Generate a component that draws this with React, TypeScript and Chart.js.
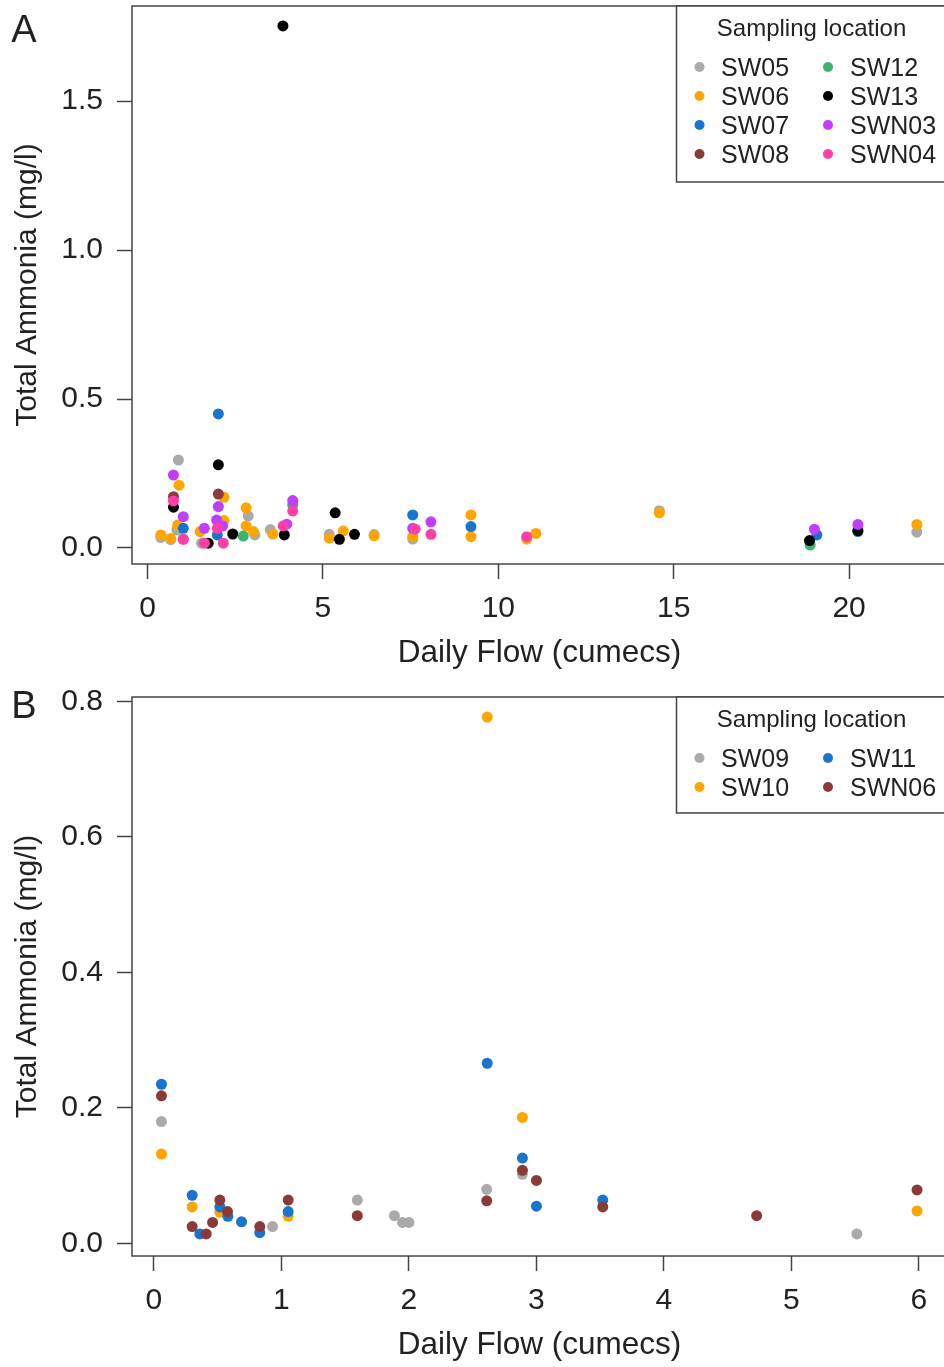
import React, { useEffect, useRef } from "react";
import { Chart, registerables } from "chart.js";
Chart.register(...registerables);

const FONT = '"Liberation Sans", Arial, Helvetica, sans-serif';

// ---------- Panel A data: [daily flow (cumecs), total ammonia (mg/l)] ----------
const SW05_A = [[0.38, 0.035], [0.66, 0.028], [0.88, 0.295], [0.84, 0.06], [1.54, 0.016], [2.87, 0.107], [3.06, 0.044], [3.5, 0.062], [5.18, 0.046], [6.46, 0.045], [7.56, 0.03], [14.59, 0.125], [21.93, 0.053]];
const SW06_A = [[0.38, 0.044], [0.66, 0.032], [0.86, 0.077], [0.9, 0.211], [1.5, 0.055], [2.18, 0.17], [2.18, 0.092], [2.81, 0.135], [2.81, 0.074], [3.02, 0.055], [3.57, 0.047], [5.18, 0.033], [5.58, 0.057], [6.46, 0.041], [7.56, 0.038], [9.22, 0.111], [9.22, 0.038], [10.81, 0.03], [11.07, 0.049], [14.59, 0.118], [21.93, 0.079]];
const SW07_A = [[1.02, 0.066], [1.99, 0.044], [2.02, 0.45], [7.56, 0.111], [9.22, 0.072], [19.08, 0.044], [20.25, 0.055]];
const SW08_A = [[0.74, 0.172], [2.02, 0.181]];
const SW12_A = [[1.02, 0.03], [2.73, 0.04], [4.14, 0.145], [18.89, 0.01]];
const SW13_A = [[0.74, 0.137], [1.73, 0.016], [2.02, 0.279], [2.43, 0.047], [3.86, 1.752], [3.9, 0.044], [5.35, 0.118], [5.47, 0.029], [5.9, 0.046], [18.87, 0.025], [20.25, 0.058]];
const SWN03_A = [[0.74, 0.245], [1.02, 0.105], [1.62, 0.066], [1.97, 0.094], [2.02, 0.139], [2.14, 0.074], [3.97, 0.08], [4.14, 0.159], [7.56, 0.066], [8.08, 0.088], [19.01, 0.063], [20.25, 0.079]];
const SWN04_A = [[0.74, 0.158], [1.02, 0.029], [1.62, 0.016], [1.99, 0.066], [2.16, 0.016], [3.87, 0.074], [4.14, 0.124], [7.63, 0.063], [8.08, 0.046], [10.81, 0.038]];

const NAMES_A = ["SW05", "SW06", "SW07", "SW08", "SW12", "SW13", "SWN03", "SWN04"];
const COLORS_A = ["#AAAAAA", "#FFA500", "#1874CD", "#8B3A3A", "#3CB371", "#000000", "#BF3EFF", "#FF3EAA"];
const SERIES_A = [SW05_A, SW06_A, SW07_A, SW08_A, SW12_A, SW13_A, SWN03_A, SWN04_A];
const X_TICKS_A = [0, 5, 10, 15, 20];
const Y_TICKS_A = [0, 0.5, 1.0, 1.5];

// ---------- Panel B data ----------
const SW09_B = [[0.059, 0.18], [0.93, 0.025], [1.595, 0.064], [1.886, 0.041], [1.95, 0.031], [2.0, 0.031], [2.61, 0.08], [2.89, 0.102], [5.513, 0.014]];
const SW10_B = [[0.059, 0.132], [0.3, 0.054], [0.517, 0.046], [1.053, 0.04], [2.614, 0.777], [2.89, 0.186], [5.985, 0.048]];
const SW11_B = [[0.059, 0.235], [0.3, 0.071], [0.36, 0.014], [0.517, 0.054], [0.58, 0.04], [0.687, 0.032], [0.83, 0.016], [1.053, 0.047], [2.614, 0.266], [2.89, 0.126], [3.0, 0.055], [3.52, 0.064]];
const SWN06_B = [[0.059, 0.218], [0.3, 0.025], [0.41, 0.014], [0.46, 0.031], [0.517, 0.064], [0.577, 0.047], [0.83, 0.025], [1.053, 0.064], [1.595, 0.041], [2.61, 0.063], [2.89, 0.108], [3.0, 0.093], [3.52, 0.054], [4.727, 0.041], [5.985, 0.079]];

const NAMES_B = ["SW09", "SW10", "SW11", "SWN06"];
const COLORS_B = ["#AAAAAA", "#FFA500", "#1874CD", "#8B3A3A"];
const SERIES_B = [SW09_B, SW10_B, SW11_B, SWN06_B];
const X_TICKS_B = [0, 1, 2, 3, 4, 5, 6];
const Y_TICKS_B = [0, 0.2, 0.4, 0.6, 0.8];

const LEGEND_TITLE = "Sampling location";
const X_TITLE = "Daily Flow (cumecs)";
const Y_TITLE = "Total Ammonia (mg/l)";

const CANVAS_W = 960;
const TEXT = "#222222";
const LINE = "#444444";

type PanelCfg = {
  letter: string;
  letterY: number;
  names: string[];
  colors: string[];
  series: number[][][];
  xMin: number; xMax: number; yMin: number; yMax: number;
  xTicks: number[]; yTicks: number[]; xDec: number; yDec: number;
  padTop: number; height: number; plotBottom: number;
  legendH: number;
};

const PANEL_A: PanelCfg = {
  letter: "A", letterY: 32,
  names: NAMES_A, colors: COLORS_A, series: SERIES_A,
  xMin: -0.442, xMax: 22.79, yMin: -0.0537, yMax: 1.819,
  xTicks: X_TICKS_A, yTicks: Y_TICKS_A, xDec: 0, yDec: 1,
  padTop: 6, height: 683, plotBottom: 564,
  legendH: 176,
};

const PANEL_B: PanelCfg = {
  letter: "B", letterY: 25,
  names: NAMES_B, colors: COLORS_B, series: SERIES_B,
  xMin: -0.172, xMax: 6.22, yMin: -0.0185, yMax: 0.8066,
  xTicks: X_TICKS_B, yTicks: Y_TICKS_B, xDec: 0, yDec: 1,
  padTop: 14, height: 684, plotBottom: 573,
  legendH: 116,
};

function buildChart(canvas: HTMLCanvasElement, p: PanelCfg) {
  const decoPlugin = {
    id: "deco" + p.letter,
    afterDraw(chart: any) {
      const ctx = chart.ctx as CanvasRenderingContext2D;
      const a = chart.chartArea;
      ctx.save();
      // box
      ctx.strokeStyle = LINE;
      ctx.lineWidth = 1.5;
      ctx.strokeRect(a.left, a.top, a.right - a.left, a.bottom - a.top);
      // legend box
      const lx = 676.5;
      ctx.fillStyle = "#ffffff";
      ctx.fillRect(lx, a.top, CANVAS_W - lx + 10, p.legendH);
      ctx.strokeRect(lx, a.top, CANVAS_W - lx + 10, p.legendH);
      ctx.fillStyle = TEXT;
      ctx.textAlign = "center";
      ctx.textBaseline = "middle";
      ctx.font = `24px ${FONT}`;
      ctx.fillText(LEGEND_TITLE, 811.5, a.top + 23);
      const half = Math.ceil(p.names.length / 2);
      ctx.font = `25px ${FONT}`;
      ctx.textAlign = "left";
      p.names.forEach((n, i) => {
        const col = i < half ? 0 : 1;
        const row = i < half ? i : i - half;
        const dx = col === 0 ? 699.5 : 828;
        const tx = col === 0 ? 721 : 850;
        const y = a.top + 61 + row * 29;
        ctx.fillStyle = p.colors[i];
        ctx.beginPath();
        ctx.arc(dx, y, 5, 0, Math.PI * 2);
        ctx.fill();
        ctx.fillStyle = TEXT;
        ctx.fillText(n, tx, y + 2);
      });
      // panel letter
      ctx.textAlign = "center";
      ctx.font = `38px ${FONT}`;
      ctx.fillText(p.letter, 24, p.letterY);
      // axis titles
      ctx.font = `31.5px ${FONT}`;
      ctx.fillText(X_TITLE, (a.left + a.right) / 2, a.bottom + 89);
      ctx.font = `30px ${FONT}`;
      ctx.translate(28, (a.top + a.bottom) / 2);
      ctx.rotate(-Math.PI / 2);
      ctx.fillText(Y_TITLE, 0, 0);
      ctx.restore();
    },
  };

  const zeroPad = (s: any) => {
    s.paddingLeft = 0; s.paddingRight = 0; s.paddingTop = 0; s.paddingBottom = 0;
  };

  return new Chart(canvas, {
    type: "scatter",
    data: {
      datasets: p.series.map((ser, i) => ({
        label: p.names[i],
        data: ser.map(([x, y]) => ({ x, y })),
        backgroundColor: p.colors[i],
        borderColor: p.colors[i],
        borderWidth: 0,
        pointRadius: 5.5,
        pointHoverRadius: 5.5,
        order: p.series.length - i,
      })),
    },
    options: {
      animation: false,
      responsive: false,
      devicePixelRatio: 1,
      events: [],
      layout: { padding: { left: 0, top: p.padTop, right: CANVAS_W - 947, bottom: 0 } },
      plugins: { legend: { display: false }, tooltip: { enabled: false }, title: { display: false } },
      scales: {
        x: {
          type: "linear",
          min: p.xMin,
          max: p.xMax,
          afterBuildTicks: (s: any) => { s.ticks = p.xTicks.map((v) => ({ value: v })); },
          afterFit: (s: any) => { s.height = p.height - p.plotBottom; zeroPad(s); },
          ticks: {
            font: { family: FONT, size: 30 },
            color: TEXT,
            padding: 12,
            maxRotation: 0,
            autoSkip: false,
            callback: (v: any) => Number(v).toFixed(p.xDec),
          },
          grid: { drawOnChartArea: false, drawTicks: true, tickLength: 15, tickColor: LINE, tickWidth: 1.5 },
          border: { display: false },
        },
        y: {
          type: "linear",
          min: p.yMin,
          max: p.yMax,
          afterBuildTicks: (s: any) => { s.ticks = p.yTicks.map((v) => ({ value: v })); },
          afterFit: (s: any) => { s.width = 132; zeroPad(s); },
          ticks: {
            font: { family: FONT, size: 30 },
            color: TEXT,
            padding: 14,
            autoSkip: false,
            callback: (v: any) => Number(v).toFixed(p.yDec),
          },
          grid: { drawOnChartArea: false, drawTicks: true, tickLength: 15, tickColor: LINE, tickWidth: 1.5 },
          border: { display: false },
        },
      },
    } as any,
    plugins: [decoPlugin],
  });
}

export default function App() {
  const refA = useRef<HTMLCanvasElement | null>(null);
  const refB = useRef<HTMLCanvasElement | null>(null);

  useEffect(() => {
    const cA = buildChart(refA.current!, PANEL_A);
    const cB = buildChart(refB.current!, PANEL_B);
    return () => { cA.destroy(); cB.destroy(); };
  }, []);

  return (
    <div style={{ position: "absolute", left: 0, top: 0, width: 944, height: 1367, overflow: "hidden", background: "#fff" }}>
      <canvas ref={refA} width={CANVAS_W} height={PANEL_A.height}
        style={{ position: "absolute", left: 0, top: 0, width: CANVAS_W, height: PANEL_A.height }} />
      <canvas ref={refB} width={CANVAS_W} height={PANEL_B.height}
        style={{ position: "absolute", left: 0, top: 683, width: CANVAS_W, height: PANEL_B.height }} />
    </div>
  );
}
